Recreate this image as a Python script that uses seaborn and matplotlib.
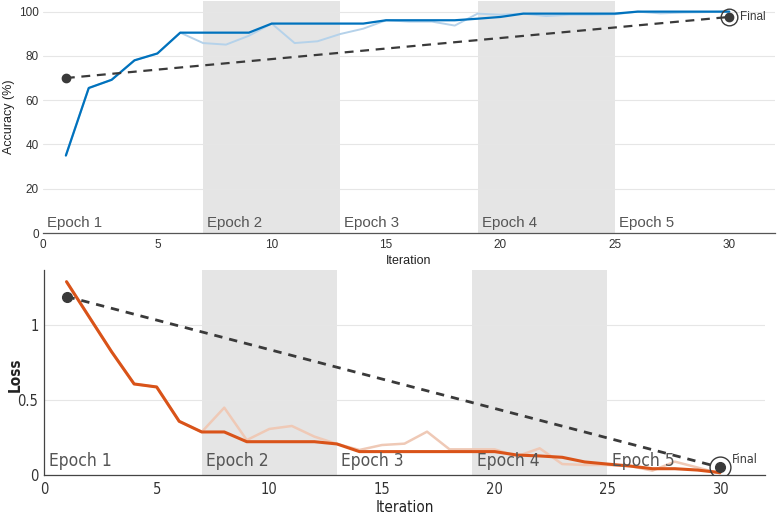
import numpy as np
import pandas as pd
import matplotlib
matplotlib.use("Agg")
import matplotlib.pyplot as plt
from matplotlib import font_manager as fm
import seaborn as sns

# ---------------- data ----------------
iterations = list(range(1, 31))
acc_raw = [35.0, 65.5, 69.2, 78.0, 81.1, 90.5, 85.8, 85.1, 89.1, 94.6,
           85.8, 86.6, 89.9, 92.3, 96.1, 95.5, 95.5, 93.7, 99.1, 98.6,
           99.1, 98.0, 98.6, 98.6, 98.8, 100.0, 99.2, 99.6, 99.8, 100.0]
acc_smooth = [35.0, 65.5, 69.2, 78.0, 81.1, 90.5, 90.5, 90.5, 90.5, 94.6,
              94.6, 94.6, 94.6, 94.6, 96.1, 96.1, 96.1, 96.1, 96.8, 97.6,
              99.1, 99.1, 99.1, 99.1, 99.1, 100.0, 100.0, 100.0, 100.0, 100.0]
loss_raw = [1.289, 1.055, 0.822, 0.607, 0.587, 0.358, 0.287, 0.449, 0.233, 0.307,
            0.327, 0.256, 0.207, 0.167, 0.200, 0.209, 0.289, 0.171, 0.171, 0.171,
            0.125, 0.178, 0.073, 0.067, 0.067, 0.060, 0.029, 0.089, 0.050, 0.010]
loss_smooth = [1.289, 1.055, 0.822, 0.607, 0.587, 0.358, 0.287, 0.287, 0.222, 0.222,
               0.222, 0.222, 0.207, 0.156, 0.156, 0.156, 0.156, 0.156, 0.156, 0.156,
               0.133, 0.127, 0.118, 0.087, 0.073, 0.060, 0.042, 0.042, 0.033, 0.016]
trend_x = [1, 30]
acc_trend = [70.0, 97.6]
loss_trend = [1.19, 0.051]
epoch_labels = ["Epoch 1", "Epoch 2", "Epoch 3", "Epoch 4", "Epoch 5"]
epoch_starts = [0, 7, 13, 19, 25]
shaded_epochs = [(7, 13), (19, 25)]
acc_yticks = [0, 20, 40, 60, 80, 100]
loss_yticks = [0, 0.5, 1]
loss_yticklabels = ["0", "0.5", "1"]
xticks = [0, 5, 10, 15, 20, 25, 30]
final_label = "Final"

df = pd.DataFrame({"Iteration": iterations, "acc_raw": acc_raw, "acc_smooth": acc_smooth,
                   "loss_raw": loss_raw, "loss_smooth": loss_smooth})

sns.set_style("white")

def have(name):
    try:
        fm.findfont(fm.FontProperties(family=name), fallback_to_default=False)
        return True
    except Exception:
        return False

REG = "Liberation Sans" if have("Liberation Sans") else "DejaVu Sans"
plt.rcParams["font.family"] = [REG, "DejaVu Sans"]

# look for a condensed / narrow sans font for the lower panel
narrow_fp = None
narrow_bold_fp = None
for f in fm.fontManager.ttflist:
    nm = (f.name + " " + f.fname).lower()
    is_narrow = ("narrow" in nm or "condensed" in nm or
                 str(f.stretch).lower() in ("condensed", "semi-condensed", "extra-condensed"))
    if not is_narrow or "serif" in nm or "mono" in nm or f.style != "normal":
        continue
    w = f.weight if isinstance(f.weight, int) else (700 if "bold" in str(f.weight) else 400)
    if w <= 450 and narrow_fp is None:
        narrow_fp = f.fname
    elif w >= 600 and narrow_bold_fp is None:
        narrow_bold_fp = f.fname

SCALE = 1.0 if narrow_fp else 0.85

def nprops(size, bold=False):
    if narrow_fp:
        fp = fm.FontProperties(fname=(narrow_bold_fp if (bold and narrow_bold_fp) else narrow_fp))
    else:
        fp = fm.FontProperties(family=REG, weight=("bold" if bold else "normal"))
    fp.set_size(size * SCALE)
    return fp

BLUE = "#0072BD"
LBLUE = "#b5d2ea"
ORANGE = "#D95319"
LORANGE = "#efc9b6"
SHADE = "#e5e5e5"
GRID = "#e6e6e6"
DARK = "#3a3a3a"
TXT = "#555555"

fig = plt.figure(figsize=(7.77, 5.20), dpi=100)
ax1 = fig.add_axes([43/777, 1-233/520, (775-43)/777, (233-1)/520])
ax2 = fig.add_axes([44/777, 1-475/520, (765-44)/777, (475-270)/520])

# ---------- top: accuracy ----------
ax = ax1
for a, b in shaded_epochs:
    ax.axvspan(a, b, color=SHADE, lw=0, zorder=0)
sns.lineplot(data=df, x="Iteration", y="acc_raw", ax=ax, color=LBLUE, lw=1.4, zorder=2)
sns.lineplot(data=df, x="Iteration", y="acc_smooth", ax=ax, color=BLUE, lw=1.6, zorder=3)
ax.plot(trend_x, acc_trend, ls=(0, (4, 3)), color=DARK, lw=1.6, zorder=4)
ax.plot(trend_x[0], acc_trend[0], "o", color=DARK, ms=6, zorder=5)
ax.plot(trend_x[1], acc_trend[1], "o", color=DARK, ms=6, zorder=5)
ax.plot(trend_x[1], acc_trend[1], "o", mfc="none", mec=DARK, mew=1.0, ms=12, zorder=5)
ax.text(trend_x[1] + 0.45, acc_trend[1], final_label, fontsize=8.5, color=DARK, va="center")
for lab, s in zip(epoch_labels, epoch_starts):
    ax.text(s + 0.17, 2.7, lab, fontsize=10.8, color=TXT, va="baseline", zorder=6)
ax.set_xlim(0, 32)
ax.set_ylim(0, 104.8)
ax.set_xticks(xticks)
ax.set_yticks(acc_yticks)
ax.grid(axis="y", color=GRID, lw=0.8)
ax.set_axisbelow(True)
for sp in ["top", "right", "left"]:
    ax.spines[sp].set_visible(False)
ax.spines["bottom"].set_color("#555555")
ax.spines["bottom"].set_linewidth(0.9)
ax.tick_params(axis="x", direction="in", length=6, width=0.8, color="#555555",
               labelsize=8.5, labelcolor="#333333", pad=4)
ax.tick_params(axis="y", length=0, labelsize=8.5, labelcolor="#333333", pad=3)
ax.set_xlabel("Iteration", fontsize=9, color="#222222", labelpad=3)
ax.set_ylabel("Accuracy (%)", fontsize=9, color="#222222")
ax.yaxis.set_label_coords(-0.038, 0.5)

# ---------- bottom: loss ----------
ax = ax2
for a, b in shaded_epochs:
    ax.axvspan(a, b, color=SHADE, lw=0, zorder=0)
sns.lineplot(data=df, x="Iteration", y="loss_raw", ax=ax, color=LORANGE, lw=1.8, zorder=2)
sns.lineplot(data=df, x="Iteration", y="loss_smooth", ax=ax, color=ORANGE, lw=2.2, zorder=3)
ax.plot(trend_x, loss_trend, ls=(0, (3, 2.5)), color=DARK, lw=2.0, zorder=4)
ax.plot(trend_x[0], loss_trend[0], "o", color=DARK, ms=7, zorder=5)
ax.plot(trend_x[1], loss_trend[1], "o", color=DARK, ms=7, zorder=5)
ax.plot(trend_x[1], loss_trend[1], "o", mfc="none", mec=DARK, mew=1.0, ms=15, zorder=5)
ax.text(trend_x[1] + 0.55, loss_trend[1] + 0.05, final_label, color=DARK,
        va="center", fontproperties=nprops(9))
for lab, s in zip(epoch_labels, epoch_starts):
    ax.text(s + 0.2, 0.062, lab, color=TXT, va="baseline", zorder=6,
            fontproperties=nprops(12.5))
ax.set_xlim(0, 32)
ax.set_ylim(0, 1.367)
ax.set_xticks(xticks)
ax.set_yticks(loss_yticks)
ax.set_yticklabels(loss_yticklabels)
ax.grid(axis="y", color=GRID, lw=0.8)
ax.set_axisbelow(True)
for sp in ["top", "right"]:
    ax.spines[sp].set_visible(False)
for sp in ["bottom", "left"]:
    ax.spines[sp].set_color("#444444")
    ax.spines[sp].set_linewidth(0.9)
ax.tick_params(axis="x", direction="in", length=10, width=0.8, color="#444444",
               labelcolor="#333333", pad=5)
ax.tick_params(axis="y", direction="in", length=0, labelcolor="#333333", pad=4)
for t in ax.get_xticklabels() + ax.get_yticklabels():
    t.set_fontproperties(nprops(10.5))
ax.set_xlabel("Iteration", color="#222222", labelpad=2, fontproperties=nprops(11))
ax.set_ylabel("Loss", color="#222222", fontproperties=nprops(11, bold=True))
ax.yaxis.set_label_coords(-0.03, 0.49)

fig.savefig("out.png", dpi=100)
